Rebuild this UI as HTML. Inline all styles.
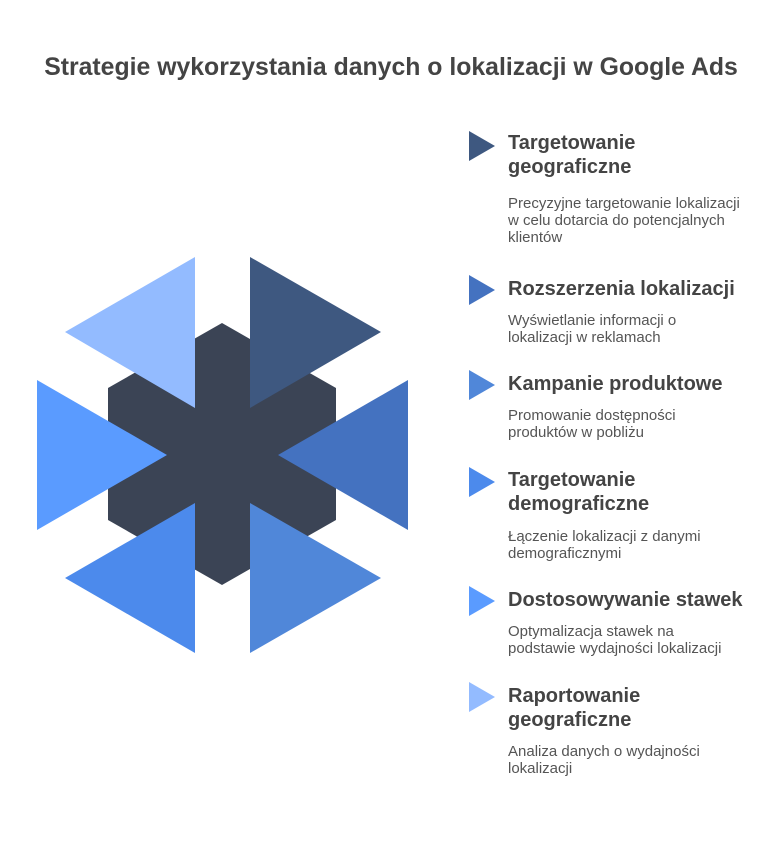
<!DOCTYPE html>
<html><head><meta charset="utf-8"><style>
body{margin:0;width:782px;height:852px;background:#fff;position:relative;font-family:"Liberation Sans",sans-serif;overflow:hidden}
.t{position:absolute;top:53px;left:0;width:782px;text-align:center;font-size:24.8px;font-weight:bold;color:#444;line-height:30px;white-space:nowrap}
.h{position:absolute;left:508px;font-size:20px;font-weight:bold;color:#444;line-height:24px;white-space:nowrap}
.d{position:absolute;left:508px;font-size:15px;color:#555;line-height:17px;white-space:nowrap}
svg{position:absolute;left:0;top:0}
</style></head><body>
<div class="t">Strategie wykorzystania danych o lokalizacji w Google Ads</div>
<svg width="782" height="852">
<polygon points="222,323 336,388 336,520 222,585 108,520 108,388" fill="#3b4455"/>
<polygon points="65,332 195,257 195,408" fill="#93bbff"/>
<polygon points="250,257 250,408 381,332" fill="#3e5880"/>
<polygon points="37,380 37,530 167,455" fill="#5a9bff"/>
<polygon points="408,380 408,530 278,455" fill="#4472c0"/>
<polygon points="195,503 195,653 65,578" fill="#4c8aec"/>
<polygon points="250,503 250,653 381,578" fill="#5087d9"/>
<polygon points="469,131 469,161 495,146" fill="#3e5880"/>
<polygon points="469,275 469,305 495,290" fill="#4472c0"/>
<polygon points="469,370 469,400 495,385" fill="#5087d9"/>
<polygon points="469,467 469,497 495,482" fill="#4c8aec"/>
<polygon points="469,586 469,616 495,601" fill="#5a9bff"/>
<polygon points="469,682 469,712 495,697" fill="#93bbff"/>
</svg>
<div class="h" style="top:131px">Targetowanie<br>geograficzne</div>
<div class="d" style="top:195px">Precyzyjne targetowanie lokalizacji<br>w celu dotarcia do potencjalnych<br>klientów</div>
<div class="h" style="top:277px">Rozszerzenia lokalizacji</div>
<div class="d" style="top:312px">Wyświetlanie informacji o<br>lokalizacji w reklamach</div>
<div class="h" style="top:372px">Kampanie produktowe</div>
<div class="d" style="top:407px">Promowanie dostępności<br>produktów w pobliżu</div>
<div class="h" style="top:468px">Targetowanie<br>demograficzne</div>
<div class="d" style="top:528px">Łączenie lokalizacji z danymi<br>demograficznymi</div>
<div class="h" style="top:588px">Dostosowywanie stawek</div>
<div class="d" style="top:623px">Optymalizacja stawek na<br>podstawie wydajności lokalizacji</div>
<div class="h" style="top:684px">Raportowanie<br>geograficzne</div>
<div class="d" style="top:743px">Analiza danych o wydajności<br>lokalizacji</div>
</body></html>
